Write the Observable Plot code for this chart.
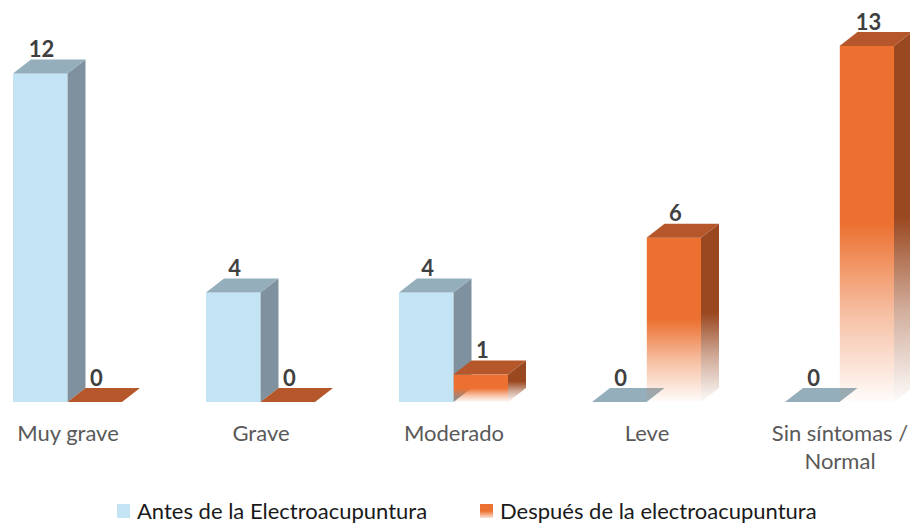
<!DOCTYPE html>
<html><head><meta charset="utf-8">
<script src="https://cdn.jsdelivr.net/npm/d3@7"></script>
<script src="https://cdn.jsdelivr.net/npm/@observablehq/plot@0.6"></script>
<style>
body{margin:0;background:#fff;font-family:Lato,"Open Sans",sans-serif;}
#chart svg{display:block;}
#legend{position:relative;height:37px;font-size:22px;color:#1a1a1a;}
.li{position:absolute;top:7px;display:flex;align-items:center;white-space:nowrap;}
.sw{width:13px;height:14px;margin-right:7px;}
</style></head><body>
<div id="chart"></div>
<div id="legend"></div>
<script>
const categories = ["Muy grave","Grave","Moderado","Leve","Sin síntomas / Normal"];
const tickLabels = ["Muy grave","Grave","Moderado","Leve","Sin síntomas /\nNormal"];
const antes = [12,4,4,0,0];
const despues = [0,0,1,6,13];
const seriesNames = ["Antes de la Electroacupuntura","Después de la electroacupuntura"];

const blueData = categories.map((c,i)=>({category:c, value:antes[i]}));
const orangeData = categories.map((c,i)=>({category:c, value:despues[i]}));

const PI = 0.433;
const X0 = 12, X1 = 895;
const BW = (X1 - X0) / (5 - PI) * (1 - PI);
const HALF = BW / 2;
const DX = 18, DY = 14;

const colors = {
  blue: {front:"#c3e4f5", side:"#7f919e", top:"#94aebb"},
  orange: {front:"url(#gFrontO)", side:"url(#gSideO)", top:"#b5572a"}
};

function defsMark() {
  return () => {
    const svg = d3.create("svg:g");
    const defs = svg.append("defs");
    const mk = (id, color) => {
      const g = defs.append("linearGradient").attr("id", id)
        .attr("x1",0).attr("y1",0).attr("x2",0).attr("y2",1);
      g.append("stop").attr("offset","0").attr("stop-color",color).attr("stop-opacity",1);
      g.append("stop").attr("offset","0.5").attr("stop-color",color).attr("stop-opacity",1);
      g.append("stop").attr("offset","0.75").attr("stop-color",color).attr("stop-opacity",0.45);
      g.append("stop").attr("offset","1").attr("stop-color",color).attr("stop-opacity",0.02);
    };
    mk("gFrontO", "#ec7131");
    mk("gSideO", "#9a4820");
    return svg.node();
  };
}

function facesMark(vals, offset, col) {
  return (index, scales) => {
    const x = scales.x, y = scales.y;
    const bw = x.bandwidth ? x.bandwidth() : BW;
    const g = d3.create("svg:g");
    categories.forEach((c, i) => {
      const v = vals[i];
      const xa = x(c) + offset * bw / 2, xb = xa + bw / 2;
      const yt = y(v), yb = y(0);
      if (v > 0) {
        g.append("polygon")
          .attr("points", [[xb,yb],[xb+DX,yb-DY],[xb+DX,yt-DY],[xb,yt]].map(p=>p.join(",")).join(" "))
          .attr("fill", col.side);
      }
      g.append("polygon")
        .attr("points", [[xa,yt],[xa+DX,yt-DY],[xb+DX,yt-DY],[xb,yt]].map(p=>p.join(",")).join(" "))
        .attr("fill", col.top);
    });
    return g.node();
  };
}

const plot = Plot.plot({
  width: 910,
  height: 490,
  marginTop: 46,
  marginBottom: 88,
  marginLeft: 0,
  marginRight: 0,
  style: {fontFamily: "Lato, 'Open Sans', sans-serif", background: "#fff", overflow: "visible"},
  x: {domain: categories, range: [X0, X1], paddingInner: PI, paddingOuter: 0, align: 0.5, axis: null, label: null},
  y: {domain: [0, 13], axis: null},
  marks: [
    defsMark(),
    Plot.barY(blueData, {x: "category", y: "value", fill: colors.blue.front, insetRight: HALF}),
    facesMark(antes, 0, colors.blue),
    Plot.barY(orangeData, {x: "category", y: "value", fill: colors.orange.front, insetLeft: HALF}),
    facesMark(despues, 1, colors.orange),
    Plot.text(blueData, {x: "category", y: "value", text: d => String(d.value), dx: -HALF/2 + 1, dy: -17, lineAnchor: "bottom", fontSize: 22, fontWeight: "bold", fill: "#404040"}),
    Plot.text(orangeData, {x: "category", y: "value", text: d => String(d.value), dx: HALF/2 + 1, dy: -17, lineAnchor: "bottom", fontSize: 22, fontWeight: "bold", fill: "#404040"}),
    Plot.axisX({tickSize: 0, tickPadding: 18, fontSize: 22, lineHeight: 1.28, fill: "#595959", label: null, tickFormat: (d) => tickLabels[categories.indexOf(d)]})
  ]
});
document.getElementById("chart").appendChild(plot);

const legend = document.getElementById("legend");
const items = [
  {name: seriesNames[0], left: 117, bg: "#c3e4f5"},
  {name: seriesNames[1], left: 480, bg: "linear-gradient(to bottom, #ec7131 0%, #ec7131 50%, rgba(236,113,49,0.2) 100%)"}
];
items.forEach(it => {
  const d = document.createElement("div");
  d.className = "li";
  d.style.left = it.left + "px";
  const s = document.createElement("span");
  s.className = "sw";
  s.style.background = it.bg;
  d.appendChild(s);
  const t = document.createElement("span");
  t.textContent = it.name;
  d.appendChild(t);
  legend.appendChild(d);
});
</script>
</body></html>
